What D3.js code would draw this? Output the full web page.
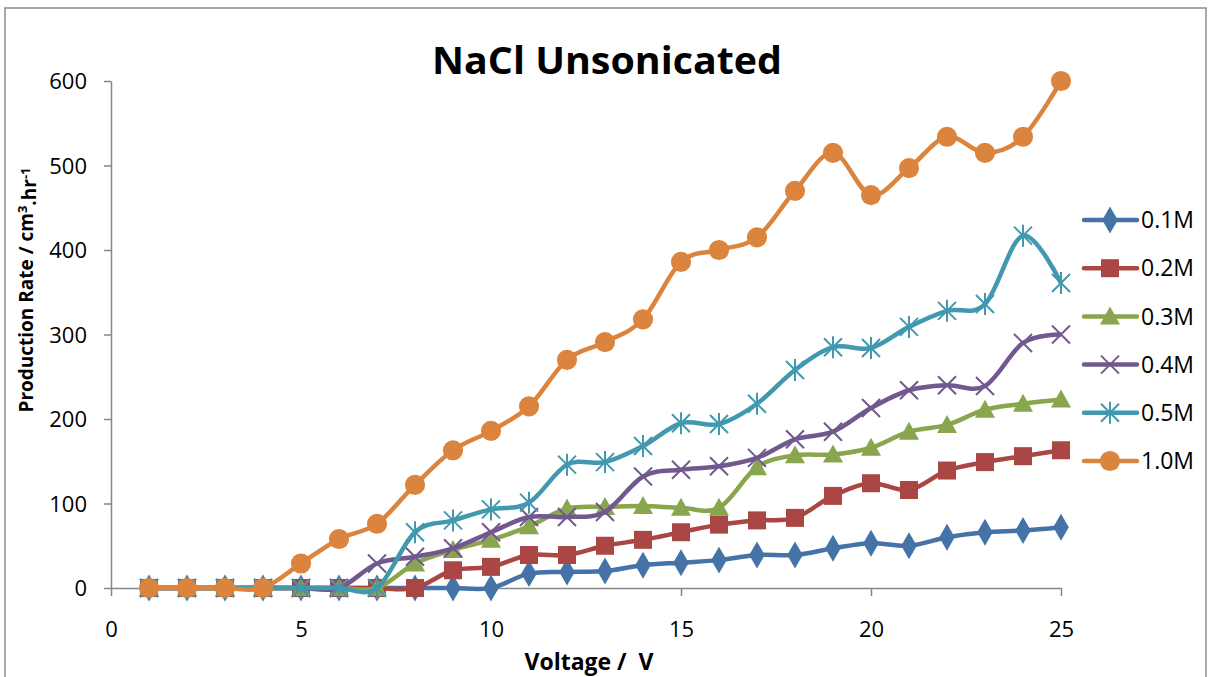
<!DOCTYPE html>
<html>
<head>
<meta charset="utf-8">
<script src="https://cdn.jsdelivr.net/npm/d3@7"></script>
<style>
  body { margin: 0; background: #fff; }
  text { font-family: "Open Sans", "Noto Sans", sans-serif; }
</style>
</head>
<body>
<div id="chart"></div>
<script>
// Voltage values (x) and series names
const voltage = [1, 2, 3, 4, 5, 6, 7, 8, 9, 10, 11, 12, 13, 14, 15, 16, 17, 18, 19, 20, 21, 22, 23, 24, 25];
const seriesNames = ["0.1M", "0.2M", "0.3M", "0.4M", "0.5M", "1.0M"];

// production rate for each concentration
const m01 = [0, 0, 0, 0, 0, 0, 0, 0, 0, 0, 17, 19, 20, 27, 30, 33, 39, 39, 47, 53, 50, 60, 66, 68, 72];
const m02 = [0, 0, 0, 0, 0, 0, 0, 0, 21, 25, 39, 39, 50, 57, 66, 75, 80, 83, 109, 124, 116, 139, 149, 156, 163];
const m03 = [0, 0, 0, 0, 0, 0, 0, 29, 45, 57, 73, 94, 96, 97, 95, 95, 143, 157, 158, 166, 185, 193, 211, 218, 223];
const m04 = [0, 0, 0, 0, 0, 0, 29, 37, 47, 66, 84, 84, 90, 132, 140, 144, 154, 176, 185, 213, 234, 240, 239, 290, 300];
const m05 = [0, 0, 0, 0, 0, 0, 0, 66, 80, 93, 101, 146, 149, 168, 195, 194, 218, 258, 285, 284, 309, 328, 336, 417, 361];
const m10 = [0, 0, 0, 0, 29, 58, 76, 122, 163, 186, 215, 270, 291, 318, 386, 400, 415, 470, 515, 465, 497, 534, 515, 534, 600];

const xTicks = [0, 5, 10, 15, 20, 25];
const yTicks = [0, 100, 200, 300, 400, 500, 600];

const allSeries = [m01, m02, m03, m04, m05, m10];
const colors = ["#4572A7", "#AA4643", "#89A54E", "#71588F", "#4198AF", "#DB843D"];
const markers = ["diamond", "square", "triangle", "cross", "star", "circle"];

const width = 1210;
const height = 677;

const svg = d3.select("#chart")
  .append("svg")
  .attr("width", width)
  .attr("height", height);

// outer chart border
svg.append("rect")
  .attr("x", 5)
  .attr("y", 8)
  .attr("width", 1201)
  .attr("height", 680)
  .attr("fill", "none")
  .attr("stroke", "#8c8c8c")
  .attr("stroke-width", 1.5);

const x = d3.scaleLinear().domain([0, 25]).range([111, 1061]);
const y = d3.scaleLinear().domain([0, 600]).range([588, 81]);

// axes
const xAxis = svg.append("g")
  .attr("transform", "translate(0," + y(0) + ")")
  .call(d3.axisBottom(x).tickValues(xTicks).tickSize(8).tickSizeOuter(0).tickPadding(25));

const yAxis = svg.append("g")
  .attr("transform", "translate(" + x(0) + ",0)")
  .call(d3.axisLeft(y).tickValues(yTicks).tickSize(7).tickSizeOuter(0).tickPadding(17));

[xAxis, yAxis].forEach(function(ax) {
  ax.select(".domain").attr("stroke", "#868686").attr("stroke-width", 1.5);
  ax.selectAll(".tick line").attr("stroke", "#868686").attr("stroke-width", 1.5);
  ax.selectAll(".tick text")
    .style("font-size", "22px")
    .style("font-family", "'Open Sans', sans-serif")
    .attr("fill", "#000");
});
yAxis.selectAll(".tick text").attr("dy", "0.36em");

// marker shapes
function markerPath(type) {
  if (type === "diamond") return d3.symbol().type(d3.symbolDiamond).size(210)();
  if (type === "square") return "M-9,-9H9V9H-9Z";
  if (type === "triangle") return "M0,-10L10,8H-10Z";
  if (type === "circle") return d3.symbol().type(d3.symbolCircle).size(320)();
  if (type === "cross") return "M-9,-9L9,9M-9,9L9,-9";
  if (type === "star") return "M-9,-9L9,9M-9,9L9,-9M0,-11V11";
  return "";
}
function isStroked(type) { return type === "cross" || type === "star"; }

const line = d3.line()
  .x(function(d) { return x(d[0]); })
  .y(function(d) { return y(d[1]); })
  .curve(d3.curveCatmullRom.alpha(0));

allSeries.forEach(function(vals, i) {
  const pts = voltage.map(function(v, j) { return [v, vals[j]]; });
  const g = svg.append("g");
  g.append("path")
    .datum(pts)
    .attr("d", line)
    .attr("fill", "none")
    .attr("stroke", colors[i])
    .attr("stroke-width", 4.5)
    .attr("stroke-linejoin", "round");
  g.selectAll("path.mk")
    .data(pts)
    .enter()
    .append("path")
    .attr("class", "mk")
    .attr("d", markerPath(markers[i]))
    .attr("transform", function(d) { return "translate(" + x(d[0]) + "," + y(d[1]) + ")"; })
    .attr("fill", isStroked(markers[i]) ? "none" : colors[i])
    .attr("stroke", isStroked(markers[i]) ? colors[i] : "none")
    .attr("stroke-width", 2);
});

// legend
const legend = svg.selectAll(".legend")
  .data(seriesNames)
  .enter()
  .append("g")
  .attr("class", "legend")
  .attr("transform", function(d, i) { return "translate(1110," + (220 + i * 48.2) + ")"; });

legend.append("line")
  .attr("x1", -26)
  .attr("x2", 27)
  .attr("stroke", function(d, i) { return colors[i]; })
  .attr("stroke-width", 4.5)
  .attr("stroke-linecap", "round");

legend.append("path")
  .attr("d", function(d, i) { return markerPath(markers[i]); })
  .attr("fill", function(d, i) { return isStroked(markers[i]) ? "none" : colors[i]; })
  .attr("stroke", function(d, i) { return isStroked(markers[i]) ? colors[i] : "none"; })
  .attr("stroke-width", 2);

legend.append("text")
  .attr("x", 31)
  .attr("dy", "0.36em")
  .style("font-size", "23px")
  .text(function(d) { return d; });

// title
svg.append("text")
  .attr("x", 607)
  .attr("y", 74)
  .attr("text-anchor", "middle")
  .style("font-size", "38px")
  .style("font-weight", "bold")
  .attr("textLength", 350)
  .attr("lengthAdjust", "spacingAndGlyphs")
  .text("NaCl Unsonicated");

// axis titles
svg.append("text")
  .attr("x", 589)
  .attr("y", 670)
  .attr("text-anchor", "middle")
  .style("font-size", "23px")
  .style("font-weight", "bold")
  .style("white-space", "pre")
  .text("Voltage /  V");

const yTitle = svg.append("text")
  .attr("transform", "translate(33,290) rotate(-90)")
  .attr("text-anchor", "middle")
  .style("font-size", "19px")
  .style("font-weight", "bold");
yTitle.append("tspan").text("Production Rate / cm");
yTitle.append("tspan").attr("dy", "-0.45em").style("font-size", "13px").text("3");
yTitle.append("tspan").attr("dy", "0.45em").text(".hr");
yTitle.append("tspan").attr("dy", "-0.45em").style("font-size", "13px").text("-1");
</script>
</body>
</html>
